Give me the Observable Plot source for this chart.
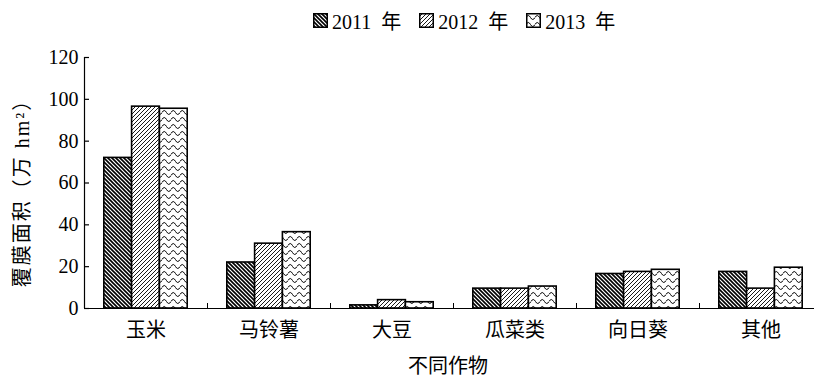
<!DOCTYPE html>
<html>
<head>
<meta charset="utf-8">
<script src="https://cdn.jsdelivr.net/npm/d3@7"></script>
<script src="https://cdn.jsdelivr.net/npm/@observablehq/plot@0.6"></script>
<style>
  html, body { margin: 0; padding: 0; background: #fff; }
  body { width: 814px; height: 378px; position: relative; overflow: hidden; font-family: "Liberation Serif", "Noto Sans CJK SC", serif; color: #000; }
  #legend { position: absolute; left: 313px; top: 8px; height: 24px; display: flex; align-items: center; font-size: 20px; white-space: nowrap; word-spacing: 5px; }
  .item { display: flex; align-items: center; margin-right: 18px; }
  .item svg { margin-right: 4px; }
  #chart { position: absolute; left: 0; top: 38px; }
</style>
</head>
<body>
<svg width="0" height="0" style="position:absolute">
  <defs>
    <pattern id="p2011" patternUnits="userSpaceOnUse" width="4" height="4">
      <rect width="4" height="4" fill="#fff"/>
      <path d="M-1,-1 L5,5 M-1,3 L1,5 M3,-1 L5,1" stroke="#000" stroke-width="1.6"/>
    </pattern>
    <pattern id="p2012" patternUnits="userSpaceOnUse" width="4" height="4">
      <rect width="4" height="4" fill="#fff"/>
      <path d="M-1,5 L5,-1 M-1,1 L1,-1 M3,5 L5,3" stroke="#000" stroke-width="0.9"/>
    </pattern>
    <pattern id="p2013" patternUnits="userSpaceOnUse" width="9" height="7">
      <rect width="9" height="7" fill="#fff"/>
      <path d="M0,4.5 Q2.25,0.5 4.5,4.5 T9,4.5" fill="none" stroke="#000" stroke-width="1"/>
    </pattern>
  </defs>
</svg>
<div id="legend"></div>
<div id="chart"></div>
<script>
// ---- data ----
const crops = ["玉米", "马铃薯", "大豆", "瓜菜类", "向日葵", "其他"];
const years = ["2011 年", "2012 年", "2013 年"];
const v2011 = [72, 22, 1.5, 9.5, 16.5, 17.5];
const v2012 = [96.5, 31, 4, 9.5, 17.5, 9.5];
const v2013 = [95.5, 36.5, 3, 10.5, 18.5, 19.5];
const yTicks = [0, 20, 40, 60, 80, 100, 120];
const yLabel = "覆膜面积（万 hm²）";
const xLabel = "不同作物";

const series = [v2011, v2012, v2013];
const patterns = ["url(#p2011)", "url(#p2012)", "url(#p2013)"];

// legend
const legend = document.getElementById("legend");
years.forEach((y, j) => {
  const item = document.createElement("div");
  item.className = "item";
  item.innerHTML = `<svg width="15" height="15"><rect x="0.75" y="0.75" width="13.5" height="13.5" fill="${patterns[j]}" stroke="#000" stroke-width="1.5"/></svg><span>${y}</span>`;
  legend.appendChild(item);
});

// layout of bars inside each category slot (fractions of a slot)
const barW = 0.226;
const groupOff = (1 - 3 * barW) / 2;

const barMarks = series.map((vals, j) => {
  const rows = crops.map((c, i) => ({crop: c, i, v: vals[i]}));
  return Plot.rectY(rows, {
    x1: d => d.i + groupOff + j * barW,
    x2: d => d.i + groupOff + (j + 1) * barW,
    y: "v",
    fill: patterns[j],
    stroke: "#000",
    strokeWidth: 1.6
  });
});

const cjk = "'Noto Sans CJK SC', 'Liberation Serif', sans-serif";
const W = 814, H = 340;
const plot = Plot.plot({
  width: W,
  height: H,
  marginLeft: 84,
  marginRight: 0,
  marginTop: 19,
  marginBottom: 70,
  style: {fontFamily: "'Liberation Serif', 'Noto Sans CJK SC', serif", fontSize: "20px", color: "#000", background: "#fff"},
  x: {type: "linear", domain: [0, 6], range: [84, 822]},
  y: {domain: [0, 120]},
  marks: [
    ...barMarks,
    Plot.ruleY([0], {stroke: "#000", strokeWidth: 1.2}),
    Plot.ruleX([0], {stroke: "#000", strokeWidth: 1.2}),
    Plot.axisY({ticks: yTicks, tickSize: -5, tickPadding: 11, label: null, fontSize: 20, strokeWidth: 1.2}),
    Plot.axisX({ticks: d3.range(7), tickSize: -5, tickFormat: () => "", label: null, strokeWidth: 1}),
    Plot.axisX({ticks: crops.map((c, i) => i + 0.5), tickSize: 0, tickPadding: 14, tickFormat: d => crops[Math.floor(d)], label: null, fontSize: 20, fontFamily: cjk}),
    Plot.text([xLabel], {frameAnchor: "bottom", textAnchor: "middle", dx: -1.5, dy: 58, lineAnchor: "middle", fontSize: 20, fontFamily: cjk}),
    Plot.text([yLabel], {frameAnchor: "left", textAnchor: "middle", rotate: -90, dx: -62, dy: 5, lineAnchor: "middle", fontSize: 20, fontFamily: "'Liberation Serif', 'Noto Sans CJK SC', serif", className: "ylab"})
  ]
});
document.getElementById("chart").appendChild(plot);
// slightly looser tracking for the vertical axis title, as in the reference
plot.querySelectorAll(".ylab text").forEach(t => t.style.letterSpacing = "2px");
</script>
</body>
</html>
